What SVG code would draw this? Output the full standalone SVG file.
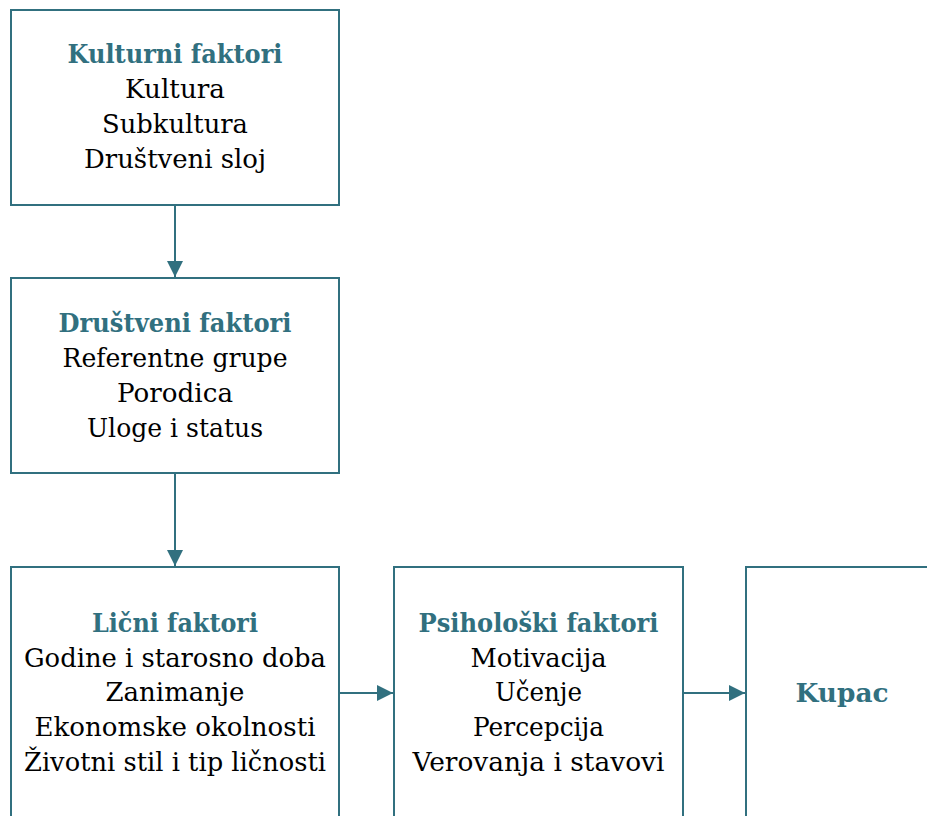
<svg xmlns="http://www.w3.org/2000/svg" width="927" height="816" viewBox="0 0 927 816">
<style>
.box{fill:#fff;stroke:#31707f;stroke-width:2}
.t{font-family:"DejaVu Serif","Liberation Serif",serif;font-size:26px;text-anchor:middle;fill:#000}
.h{font-weight:bold;fill:#31707f}
.c{stroke:#31707f;stroke-width:2;fill:none}
</style>
<defs>
<marker id="ah" markerWidth="16" markerHeight="16" refX="16" refY="8" orient="auto" markerUnits="userSpaceOnUse">
<path d="M0,0 L16,8 L0,16 Z" fill="#31707f"/>
</marker>
</defs>
<rect width="927" height="816" fill="#fff"/>
<g id="connectors">
<line class="c" x1="175" y1="205" x2="175" y2="277" marker-end="url(#ah)"/>
<line class="c" x1="175" y1="473" x2="175" y2="566" marker-end="url(#ah)"/>
<line class="c" x1="339" y1="693" x2="393" y2="693" marker-end="url(#ah)"/>
<line class="c" x1="683" y1="693" x2="745" y2="693" marker-end="url(#ah)"/>
</g>
<g id="kulturni">
<rect class="box" x="11" y="10" width="328" height="195"/>
<text class="t h" x="175" y="63" textLength="215" lengthAdjust="spacingAndGlyphs">Kulturni faktori</text>
<text class="t" x="175" y="98" textLength="100" lengthAdjust="spacingAndGlyphs">Kultura</text>
<text class="t" x="175" y="133" textLength="146" lengthAdjust="spacingAndGlyphs">Subkultura</text>
<text class="t" x="175" y="168" textLength="182" lengthAdjust="spacingAndGlyphs">Društveni sloj</text>
</g>
<g id="drustveni">
<rect class="box" x="11" y="278" width="328" height="195"/>
<text class="t h" x="175" y="332" textLength="233" lengthAdjust="spacingAndGlyphs">Društveni faktori</text>
<text class="t" x="175" y="367" textLength="225" lengthAdjust="spacingAndGlyphs">Referentne grupe</text>
<text class="t" x="175" y="402" textLength="116" lengthAdjust="spacingAndGlyphs">Porodica</text>
<text class="t" x="175" y="437" textLength="176" lengthAdjust="spacingAndGlyphs">Uloge i status</text>
</g>
<g id="licni">
<rect class="box" x="11" y="567" width="328" height="260"/>
<text class="t h" x="175" y="632" textLength="166" lengthAdjust="spacingAndGlyphs">Lični faktori</text>
<text class="t" x="175" y="667" textLength="302" lengthAdjust="spacingAndGlyphs">Godine i starosno doba</text>
<text class="t" x="175" y="701" textLength="139" lengthAdjust="spacingAndGlyphs">Zanimanje</text>
<text class="t" x="175" y="736" textLength="281" lengthAdjust="spacingAndGlyphs">Ekonomske okolnosti</text>
<text class="t" x="175" y="771" textLength="302" lengthAdjust="spacingAndGlyphs">Životni stil i tip ličnosti</text>
</g>
<g id="psiholoski">
<rect class="box" x="394" y="567" width="289" height="260"/>
<text class="t h" x="538.5" y="632" textLength="240" lengthAdjust="spacingAndGlyphs">Psihološki faktori</text>
<text class="t" x="538.5" y="667" textLength="136" lengthAdjust="spacingAndGlyphs">Motivacija</text>
<text class="t" x="538.5" y="701" textLength="87" lengthAdjust="spacingAndGlyphs">Učenje</text>
<text class="t" x="538.5" y="736" textLength="131" lengthAdjust="spacingAndGlyphs">Percepcija</text>
<text class="t" x="538.5" y="771" textLength="252" lengthAdjust="spacingAndGlyphs">Verovanja i stavovi</text>
</g>
<g id="kupac">
<rect class="box" x="746" y="567" width="200" height="260"/>
<text class="t h" x="842" y="702" textLength="93" lengthAdjust="spacingAndGlyphs">Kupac</text>
</g>
</svg>
